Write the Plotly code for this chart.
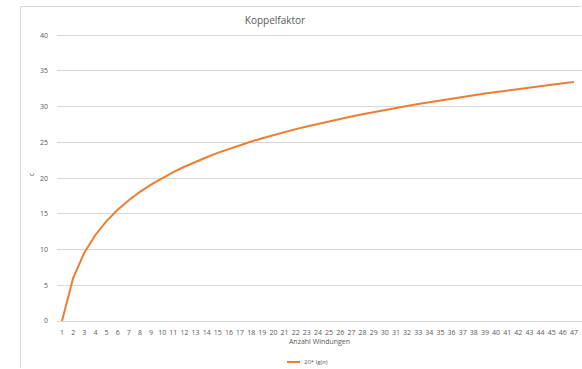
import plotly.graph_objects as go

# Anzahl Windungen n and coupling factor c = 20*lg(n)
windungen = list(range(1, 48))
koppelfaktor = [
    0.00, 6.02, 9.54, 12.04, 13.98, 15.56, 16.90, 18.06, 19.08, 20.00,
    20.83, 21.58, 22.28, 22.92, 23.52, 24.08, 24.61, 25.11, 25.58, 26.02,
    26.44, 26.85, 27.23, 27.60, 27.96, 28.30, 28.63, 28.94, 29.25, 29.54,
    29.83, 30.10, 30.37, 30.63, 30.88, 31.13, 31.36, 31.60, 31.82, 32.04,
    32.26, 32.46, 32.67, 32.87, 33.06, 33.26, 33.44,
]
y_ticks = [0, 5, 10, 15, 20, 25, 30, 35, 40]

W, H = 582, 369
L, R, T, B = 57, 0, 28, 48
pw, ph = W - L - R, H - T - B

def px_x(x):
    return (x - L) / pw

def px_y(y):
    return (H - B - y) / ph

FONT = "Open Sans"
GRAY = "#595959"
ORANGE = "#ED7D31"
FRAME = "#D9D9D9"

fig = go.Figure()
fig.add_trace(go.Scatter(
    x=windungen, y=koppelfaktor, mode="lines",
    line=dict(color=ORANGE, width=2), name="20* lg(n)",
    showlegend=False,
))

fig.update_layout(
    template="none",
    width=W, height=H,
    margin=dict(l=L, r=R, t=T, b=B, pad=0),
    paper_bgcolor="white", plot_bgcolor="white",
    font=dict(family=FONT, color=GRAY, size=7),
    title=dict(text="Koppelfaktor", x=275 / W, xref="container",
               xanchor="center", y=1 - 20 / H, yanchor="middle",
               font=dict(size=10, color=GRAY, family=FONT)),
    xaxis=dict(
        range=[0.551, 47.72], tickmode="array", tickvals=windungen,
        ticktext=[str(v) for v in windungen], showgrid=False,
        zeroline=False, showline=False, ticks="",
        ticklabelstandoff=6,
        tickfont=dict(size=7, color=GRAY),
        title=dict(text="Anzahl Windungen", standoff=3,
                   font=dict(size=7, color=GRAY)),
    ),
    yaxis=dict(
        range=[0, 41], tickvals=y_ticks, showgrid=True,
        gridcolor=FRAME, gridwidth=1, zeroline=True,
        zerolinecolor=FRAME, zerolinewidth=1, showline=False,
        ticks="", ticklabelstandoff=8,
        tickfont=dict(size=7, color=GRAY),
        title=dict(text="c", standoff=4, font=dict(size=7, color=GRAY)),
    ),
    shapes=[
        # chart frame: left and top edges
        dict(type="line", xref="paper", yref="paper",
             x0=px_x(20.5), x1=px_x(20.5), y0=px_y(H - 1), y1=px_y(6.5),
             line=dict(color=FRAME, width=1)),
        dict(type="line", xref="paper", yref="paper",
             x0=px_x(20.5), x1=px_x(W - 1), y0=px_y(6.5), y1=px_y(6.5),
             line=dict(color=FRAME, width=1)),
        # legend key
        dict(type="line", xref="paper", yref="paper",
             x0=px_x(287), x1=px_x(300), y0=px_y(362), y1=px_y(362),
             line=dict(color=ORANGE, width=2)),
    ],
    annotations=[
        dict(text="20* lg(<i>n</i>)", xref="paper", yref="paper",
             x=px_x(302), y=px_y(362), xanchor="left", yanchor="middle",
             showarrow=False, font=dict(size=6, color=GRAY, family=FONT)),
    ],
)

fig.write_html("out.html", config={"displayModeBar": False})
